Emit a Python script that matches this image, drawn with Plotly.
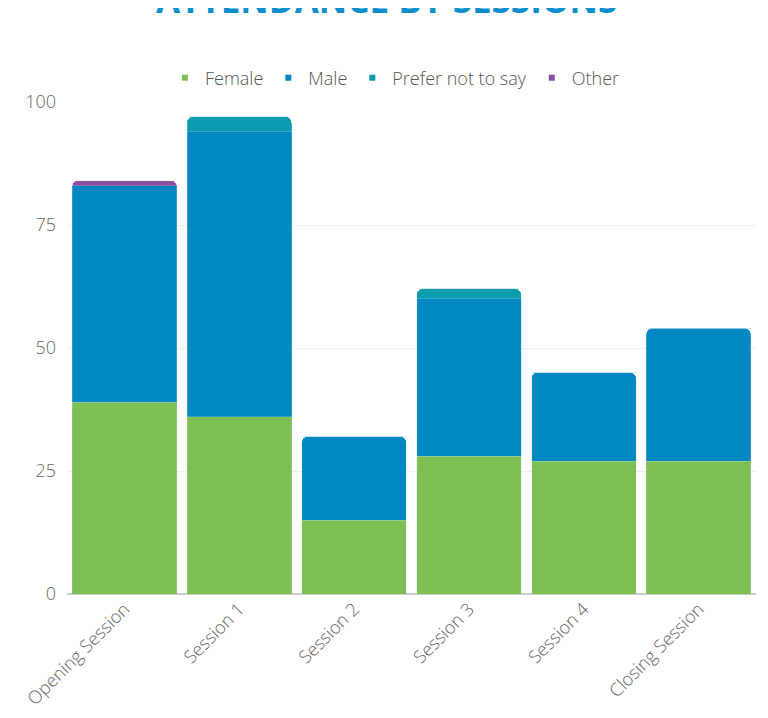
import plotly.graph_objects as go

categories = ["Opening Session", "Session 1", "Session 2", "Session 3", "Session 4", "Closing Session"]
female = [39, 36, 15, 28, 27, 27]
male = [44, 58, 17, 32, 18, 27]
prefer_not = [0, 3, 0, 2, 0, 0]
other = [1, 0, 0, 0, 0, 0]
y_ticks = [0, 25, 50, 75, 100]

series = [
    ("Female", female, "#7dbf52"),
    ("Male", male, "#0088c2"),
    ("Prefer not to say", prefer_not, "#0a9bb0"),
    ("Other", other, "#8a4f9e"),
]

font = "Open Sans, sans-serif"
fig = go.Figure()
for name, vals, color in series:
    fig.add_trace(go.Bar(
        x=categories, y=vals, name=name, showlegend=False,
        marker=dict(color=color, line=dict(color="rgba(190,215,235,0.5)", width=0.5)),
    ))
# legend entries with small square symbols
for name, vals, color in series:
    fig.add_trace(go.Scatter(
        x=[None], y=[None], mode="markers", name=name,
        marker=dict(symbol="square", size=6, color=color),
    ))

fig.update_layout(
    barmode="stack",
    bargap=0.09,
    barcornerradius=6,
    width=768, height=718,
    margin=dict(l=59, r=20, t=94, b=132),
    plot_bgcolor="white", paper_bgcolor="white",
    font=dict(family=font, size=18, color="#555555", weight=300),
    legend=dict(orientation="h", x=0.476, xanchor="center", y=1.0488, yref="paper",
                yanchor="middle", font=dict(size=18, color="#555555", weight=300),
                itemwidth=30, traceorder="normal", itemsizing="trace"),
    showlegend=True,
    annotations=[dict(text="<b>ATTENDANCE BY SESSIONS</b>", xref="paper", yref="paper",
                      x=0.463, y=1.208, xanchor="center", yanchor="middle", showarrow=False,
                      font=dict(family=font, size=35, color="#0a8fcc"))],
)
fig.update_yaxes(range=[0, 100], tickvals=y_ticks, showgrid=True, gridcolor="#f0f0f0",
                 zeroline=True, zerolinecolor="#cccccc", ticks="", ticklabelstandoff=10,
                 tickfont=dict(size=18, color="#666666", weight=300))
fig.update_xaxes(tickangle=-45, ticks="", showline=False,
                 tickfont=dict(size=18, color="#666666", weight=300))

fig.write_html("out.html")
